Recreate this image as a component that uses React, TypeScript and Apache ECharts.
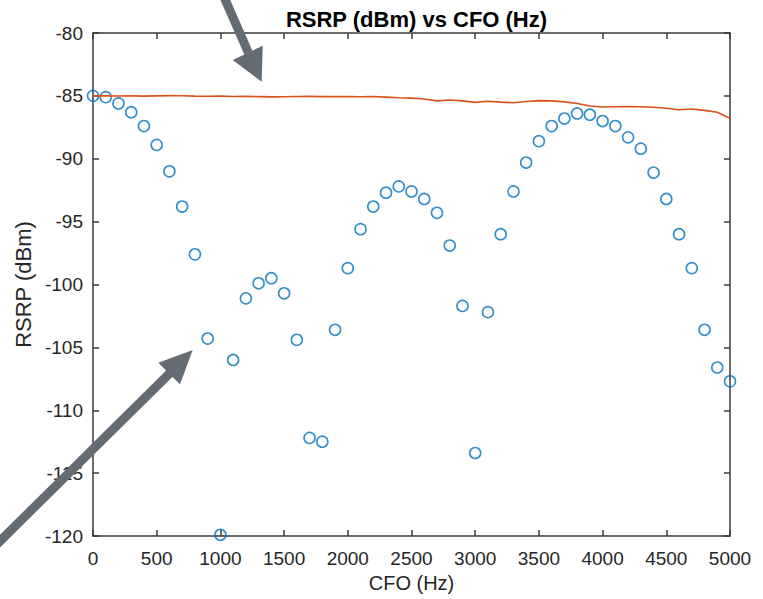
import React, { useEffect, useRef } from "react";
import * as echarts from "echarts";

const cfoHz = [
  0, 100, 200, 300, 400, 500, 600, 700, 800, 900,
  1000, 1100, 1200, 1300, 1400, 1500, 1600, 1700, 1800, 1900,
  2000, 2100, 2200, 2300, 2400, 2500, 2600, 2700, 2800, 2900,
  3000, 3100, 3200, 3300, 3400, 3500, 3600, 3700, 3800, 3900,
  4000, 4100, 4200, 4300, 4400, 4500, 4600, 4700, 4800, 4900,
  5000,
];

const rsrpMeasured = [
  -85.0, -85.1, -85.6, -86.3, -87.4, -88.9, -91.0, -93.8, -97.6, -104.3,
  -119.9, -106.0, -101.1, -99.9, -99.5, -100.7, -104.4, -112.2, -112.5, -103.6,
  -98.7, -95.6, -93.8, -92.7, -92.2, -92.6, -93.2, -94.3, -96.9, -101.7,
  -113.4, -102.2, -96.0, -92.6, -90.3, -88.6, -87.4, -86.8, -86.4, -86.5,
  -87.0, -87.4, -88.3, -89.2, -91.1, -93.2, -96.0, -98.7, -103.6, -106.6,
  -107.7,
];

const rsrpReference = [
  -85.0, -85.0, -85.01, -85.0, -85.02, -85.0, -84.98, -84.99, -85.02, -85.03,
  -85.02, -85.05, -85.04, -85.06, -85.08, -85.07, -85.05, -85.04, -85.06, -85.05,
  -85.06, -85.07, -85.05, -85.1, -85.15, -85.18, -85.25, -85.4, -85.33, -85.4,
  -85.52, -85.43, -85.5, -85.55, -85.45, -85.38, -85.4, -85.48, -85.6, -85.8,
  -85.88, -85.86, -85.84, -85.87, -85.9, -85.98, -86.1, -86.04, -86.15, -86.3,
  -86.78,
];

const titleText = "RSRP (dBm) vs CFO (Hz)";
const xName = "CFO (Hz)";
const yName = "RSRP (dBm)";

export default function App() {
  const ref = useRef<HTMLDivElement>(null);

  useEffect(() => {
    const chart = echarts.init(ref.current!, null, { renderer: "svg" });
    const axisColor = "#262626";
    const font = "Liberation Sans";
    const lineStyle = { color: "#3a3a3a", width: 1.5 };
    const arrowColor = "#646b73";
    const plain = (v: number) => String(v);

    const baseX = {
      type: "value",
      min: 0,
      max: 5000,
      interval: 500,
      splitLine: { show: false },
      axisLine: { show: true, onZero: false, lineStyle },
      axisTick: { show: true, inside: true, length: 6, lineStyle },
    };
    const baseY = {
      type: "value",
      min: -120,
      max: -80,
      interval: 5,
      splitLine: { show: false },
      axisLine: { show: true, onZero: false, lineStyle },
      axisTick: { show: true, inside: true, length: 6, lineStyle },
    };

    chart.setOption({
      animation: false,
      backgroundColor: "#ffffff",
      title: {
        text: titleText,
        left: 411.5,
        textAlign: "center",
        top: 3,
        textStyle: { fontFamily: font, fontSize: 22, fontWeight: "bold", color: "#000000" },
      },
      grid: { left: 93, right: 33, top: 33, bottom: 63, containLabel: false },
      xAxis: [
        {
          ...baseX,
          position: "bottom",
          name: xName,
          nameLocation: "middle",
          nameGap: 37,
          nameTextStyle: { fontFamily: font, fontSize: 20, color: axisColor },
          axisLabel: { margin: 13, color: axisColor, fontSize: 19, fontFamily: font, formatter: plain },
        },
        {
          ...baseX,
          position: "top",
          axisLabel: { show: false },
        },
      ],
      yAxis: [
        {
          ...baseY,
          position: "left",
          name: yName,
          nameLocation: "middle",
          nameGap: 55,
          nameTextStyle: { fontFamily: font, fontSize: 22, color: axisColor },
          axisLabel: { margin: 10, color: axisColor, fontSize: 19, fontFamily: font, formatter: plain },
        },
        {
          ...baseY,
          position: "right",
          axisLabel: { show: false },
        },
      ],
      series: [
        {
          type: "scatter",
          xAxisIndex: 0,
          yAxisIndex: 0,
          data: cfoHz.map((f, i) => [f, rsrpMeasured[i]]),
          symbol: "circle",
          symbolSize: 11,
          clip: false,
          itemStyle: { color: "rgba(0,0,0,0)", borderColor: "#0072BD", borderWidth: 1.6 },
        },
        {
          type: "line",
          xAxisIndex: 0,
          yAxisIndex: 0,
          data: cfoHz.map((f, i) => [f, rsrpReference[i]]),
          symbol: "none",
          showSymbol: false,
          lineStyle: { color: "#D95319", width: 1.6 },
        },
      ],
      graphic: [
        {
          type: "polyline",
          z: 100,
          shape: { points: [[221, -10], [248.5, 53]] },
          style: { stroke: arrowColor, lineWidth: 9, fill: null },
        },
        {
          type: "polygon",
          z: 100,
          shape: { points: [[232.7, 60], [262.7, 45.7], [261.7, 81.7]] },
          style: { fill: arrowColor },
        },
        {
          type: "polyline",
          z: 100,
          shape: { points: [[-10, 551], [170, 373]] },
          style: { stroke: arrowColor, lineWidth: 9, fill: null },
        },
        {
          type: "polygon",
          z: 100,
          shape: { points: [[158.3, 362.7], [180, 384.3], [192.7, 350]] },
          style: { fill: arrowColor },
        },
      ],
    });

    return () => chart.dispose();
  }, []);

  return (
    <div
      ref={ref}
      style={{ position: "fixed", left: 0, top: 0, width: 763, height: 599 }}
    />
  );
}
